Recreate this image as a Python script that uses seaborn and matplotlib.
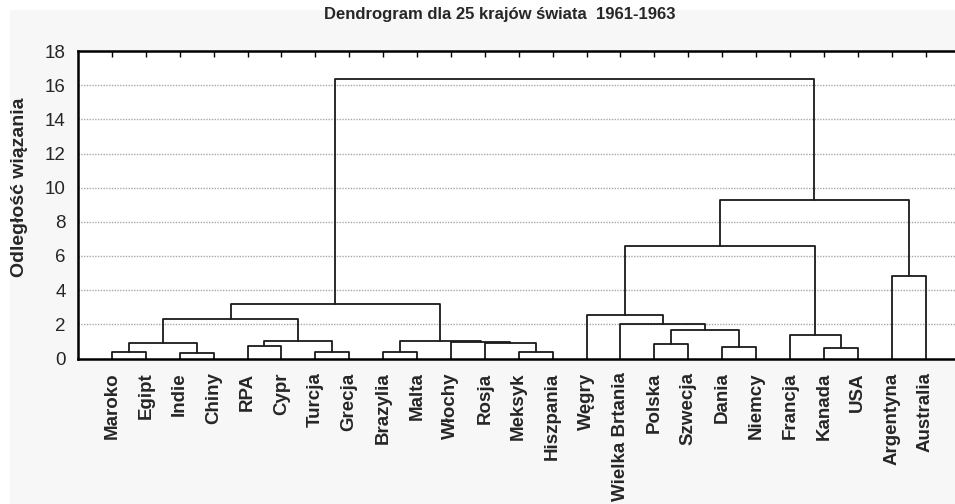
import numpy as np
import pandas as pd
import matplotlib
matplotlib.use("Agg")
import matplotlib.pyplot as plt
from matplotlib.patches import Rectangle
from matplotlib.ticker import MultipleLocator
import seaborn as sns

# leaf order as shown on the x axis
countries = ["Maroko", "Egipt", "Indie", "Chiny", "RPA", "Cypr", "Turcja", "Grecja",
             "Brazylia", "Malta", "Włochy", "Rosja", "Meksyk", "Hiszpania", "Węgry",
             "Wielka Brtania", "Polska", "Szwecja", "Dania", "Niemcy", "Francja",
             "Kanada", "USA", "Argentyna", "Australia"]

# links: a country name or the index of an earlier link, joined at a height
link_a = ["Maroko", "Indie", 0, "RPA", "Turcja", 3, 2, "Brazylia", "Meksyk", "Rosja",
          "Włochy", 7, 6, "Polska", "Dania", 13, "Wielka Brtania", "Węgry", "Kanada",
          "Francja", 17, "Argentyna", 20, 12]
link_b = ["Egipt", "Chiny", 1, "Cypr", "Grecja", 4, 5, "Malta", "Hiszpania", 8,
          9, 10, 11, "Szwecja", "Niemcy", 14, 15, 16, "USA",
          18, 19, "Australia", 21, 22]
link_h = [0.36, 0.30, 0.89, 0.75, 0.36, 1.04, 2.31, 0.36, 0.36, 0.89,
          0.97, 1.04, 3.21, 0.82, 0.68, 1.67, 2.02, 2.52, 0.64,
          1.40, 6.58, 4.83, 9.26, 16.35]

title = "Dendrogram dla 25 krajów świata  1961-1963"
ylabel = "Odległość wiązania"


def link_segments():
    """Build U-shaped segments of the dendrogram from the link lists."""
    node = {c: (i + 1, 0.0) for i, c in enumerate(countries)}
    rows = []
    for k, (a, b, h) in enumerate(zip(link_a, link_b, link_h)):
        xa, ya = node[a]
        xb, yb = node[b]
        for x, y in [(xa, ya), (xa, h), (xb, h), (xb, yb)]:
            rows.append({"link": k, "x": x, "y": y})
        node[k] = ((xa + xb) / 2, h)
    return pd.DataFrame(rows)


sns.set_style("white")
plt.rcParams["font.family"] = ["Liberation Sans", "DejaVu Sans"]

fig = plt.figure(figsize=(9.55, 5.04), dpi=100)
fig.patch.set_facecolor("white")
fig.add_artist(Rectangle((10 / 955, 0), 1, 1 - 10 / 504, transform=fig.transFigure,
                         facecolor="#f7f7f7", edgecolor="none", zorder=-10))

ax = fig.add_axes([78 / 955, 145.5 / 504, 881.4 / 955, 307.5 / 504])
ax.set_facecolor("white")

segs = link_segments()
sns.lineplot(data=segs, x="x", y="y", units="link", estimator=None, sort=False,
             color="#1a1a1a", linewidth=1.3, ax=ax, legend=False)

ax.set_xlim(0, 26)
ax.set_ylim(0, 18)
ax.set_xticks(np.arange(1, len(countries) + 1))
ax.set_xticklabels(countries, rotation=90, fontsize=13.5, fontweight="bold")
ax.yaxis.set_major_locator(MultipleLocator(2))
ax.yaxis.set_minor_locator(MultipleLocator(1))
ax.tick_params(axis="y", which="major", length=0, pad=9, labelsize=13.5)
ax.tick_params(axis="y", which="minor", direction="in", length=4, width=1, color="black")
ax.tick_params(axis="x", bottom=False, top=True, direction="in", length=4, width=1,
               color="black", pad=10)
ax.grid(axis="y", which="major", color="#a8a8a8", linestyle=(0, (1, 1)), linewidth=1)
ax.set_xlabel("")
ax.set_ylabel("")
for side in ["left", "bottom", "top", "right"]:
    ax.spines[side].set_color("black")
    ax.spines[side].set_linewidth(1.8)

fig.text(20 / 955, 1 - 187.5 / 504, ylabel, rotation=90, ha="center", va="center",
         fontsize=14, fontweight="bold")
fig.text(500 / 955, 1 - 14 / 504, title, ha="center", va="center",
         fontsize=12, fontweight="bold")

fig.savefig("out.png", dpi=100, facecolor=fig.get_facecolor())
